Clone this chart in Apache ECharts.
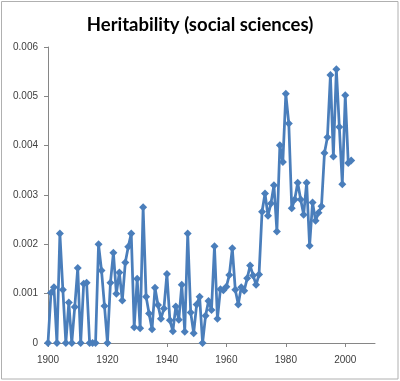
<!DOCTYPE html>
<html>
<head>
<meta charset="utf-8">
<script src="https://cdn.jsdelivr.net/npm/echarts@6/dist/echarts.min.js"></script>
<style>
html,body{margin:0;padding:0;background:#fff;}
#chart{width:400px;height:381px;}
</style>
</head>
<body>
<div id="chart"></div>
<script>
var title = 'Heritability (social sciences)';
var years = [1900,1901,1902,1903,1904,1905,1906,1907,1908,1909,
  1910,1911,1912,1913,1914,1915,1916,1917,1918,1919,
  1920,1921,1922,1923,1924,1925,1926,1927,1928,1929,
  1930,1931,1932,1933,1934,1935,1936,1937,1938,1939,
  1940,1941,1942,1943,1944,1945,1946,1947,1948,1949,
  1950,1951,1952,1953,1954,1955,1956,1957,1958,1959,
  1960,1961,1962,1963,1964,1965,1966,1967,1968,1969,
  1970,1971,1972,1973,1974,1975,1976,1977,1978,1979,
  1980,1981,1982,1983,1984,1985,1986,1987,1988,1989,
  1990,1991,1992,1993,1994,1995,1996,1997,1998,1999,
  2000,2001,2002];
var values = [0,0.00102,0.00113,0,0.00222,0.00108,0,0.00082,0,0.00073,
  0.00152,0,0.00120,0.00122,0,0,0,0.00200,0.00147,0.00075,
  0,0.00122,0.00183,0.00100,0.00143,0.00086,0.00163,0.00195,0.00222,0.00032,
  0.00130,0.00030,0.00275,0.00094,0.00060,0.00028,0.00112,0.00077,0.00049,0.00070,
  0.00140,0.00046,0.00024,0.00074,0.00047,0.00118,0.00023,0.00222,0.00062,0.00020,
  0.00078,0.00094,0,0.00055,0.00085,0.00067,0.00196,0.00049,0.00109,0.00107,
  0.00114,0.00138,0.00192,0.00108,0.00078,0.00113,0.00106,0.00131,0.00157,0.00137,
  0.00118,0.00139,0.00266,0.00303,0.00258,0.00283,0.00320,0.00226,0.00401,0.00367,
  0.00505,0.00445,0.00273,0.00291,0.00325,0.00291,0.00260,0.00325,0.00197,0.00285,
  0.00248,0.00264,0.00277,0.00385,0.00417,0.00543,0.00378,0.00555,0.00438,0.00322,
  0.00502,0.00365,0.00370];
var xTicks = [1900,1920,1940,1960,1980,2000];
var yTicks = ['0','0.001','0.002','0.003','0.004','0.005','0.006'];

var points = years.map(function(y,i){return [y, values[i]];});
var chart = echarts.init(document.getElementById('chart'), null, {renderer:'canvas'});
chart.setOption({
  animation:false,
  backgroundColor:'#fff',
  title:{
    text:title, left:'center', top:11,
    textStyle:{fontFamily:'Lato', fontWeight:'bold', fontSize:18.5, color:'#000'}
  },
  graphic:[{
    type:'rect', shape:{x:1.5,y:1.5,width:396.5,height:377.5},
    style:{fill:null, stroke:'#b0b0b0', lineWidth:1}, silent:true
  }],
  grid:{left:48, right:25, top:47, bottom:38, containLabel:false},
  xAxis:{
    type:'value', min:1900, max:2010, interval:20,
    axisLine:{lineStyle:{color:'#868686', width:1}},
    axisTick:{show:true, length:4, inside:false, lineStyle:{color:'#868686'}},
    splitLine:{show:false},
    axisLabel:{color:'#404040', fontFamily:'Liberation Sans', fontSize:10, margin:12,
      showMaxLabel:false,
      formatter:function(v){ return xTicks.indexOf(v) >= 0 ? String(v) : ''; }}
  },
  yAxis:{
    type:'value', min:0, max:0.006, interval:0.001,
    axisLine:{show:true, lineStyle:{color:'#868686', width:1}},
    axisTick:{show:true, length:4, lineStyle:{color:'#868686'}},
    splitLine:{show:false},
    axisLabel:{color:'#404040', fontFamily:'Liberation Sans', fontSize:10, margin:10,
      formatter:function(v){ var i = Math.round(v/0.001); return yTicks[i] !== undefined ? yTicks[i] : ''; }}
  },
  series:[{
    type:'line', data:points,
    symbol:'diamond', symbolSize:8,
    lineStyle:{color:'#4a7ebb', width:2.75},
    itemStyle:{color:'#4a7ebb'},
    showAllSymbol:true
  }]
});
</script>
</body>
</html>
